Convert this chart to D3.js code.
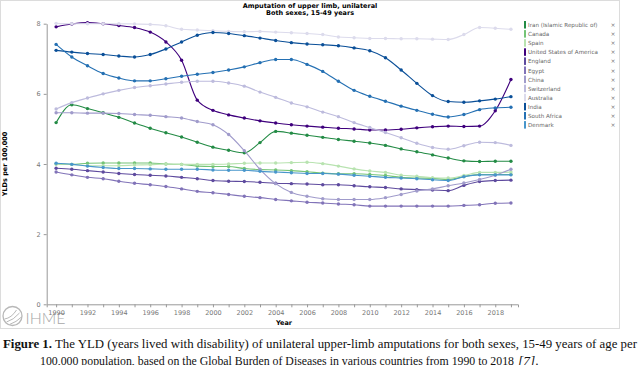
<!DOCTYPE html>
<html>

<head>
    <meta charset="utf-8">
    <style>
        body { margin: 0; background: #fff; }
        .tick text {
            fill: #777;
            font-size: 6.5px;
            font-family: "DejaVu Sans", sans-serif;
        }
        .tick line, .domain { stroke: #999; }
    </style>
    <script src="https://cdnjs.cloudflare.com/ajax/libs/d3/7.8.5/d3.min.js"></script>
    <title>Amputation of upper limb, unilateral</title>
</head>

<body>
    <div id="chart"></div>

    <script>

        // data (YLDs per 100,000)
        var years = d3.range(1990, 2020);
        var xTickLabels = [1990, 1992, 1994, 1996, 1998, 2000, 2002, 2004, 2006, 2008, 2010, 2012, 2014, 2016, 2018];
        var yTicks = [0, 2, 4, 6, 8];

        var countries = ["Iran (Islamic Republic of)", "Canada", "Spain", "United States of America", "England",
            "Egypt", "China", "Switzerland", "Australia", "India", "South Africa", "Denmark"];
        var colors = ["#238b45", "#74c476", "#b8e3b0", "#3f007d", "#5e4a9e", "#8173b8", "#a09bcb", "#bdbbdd",
            "#dcdbec", "#0a4f98", "#2470b3", "#4896cb"];

        var iran = [5.18, 5.69, 5.58, 5.46, 5.33, 5.17, 5.02, 4.89, 4.77, 4.62, 4.48, 4.39, 4.32, 4.61, 4.93, 4.88, 4.82, 4.76, 4.70, 4.65, 4.60, 4.53, 4.43, 4.35, 4.26, 4.17, 4.09, 4.07, 4.08, 4.08];
        var canada = [4.00, 3.99, 4.02, 4.03, 4.03, 4.03, 4.03, 4.00, 3.99, 3.94, 3.93, 3.93, 3.87, 3.84, 3.83, 3.81, 3.78, 3.74, 3.72, 3.72, 3.70, 3.67, 3.62, 3.60, 3.59, 3.56, 3.64, 3.70, 3.70, 3.70];
        var spain = [4.00, 3.99, 3.95, 3.95, 3.95, 3.97, 3.98, 4.00, 3.99, 3.99, 3.99, 4.00, 4.02, 4.03, 4.03, 4.04, 4.05, 4.01, 3.94, 3.86, 3.80, 3.76, 3.68, 3.65, 3.61, 3.60, 3.67, 3.76, 3.76, 3.77];
        var usa = [7.91, 7.99, 8.03, 8.00, 7.95, 7.89, 7.76, 7.48, 6.96, 5.82, 5.53, 5.40, 5.31, 5.23, 5.17, 5.12, 5.08, 5.05, 5.02, 5.00, 4.97, 4.97, 4.99, 5.03, 5.06, 5.08, 5.07, 5.08, 5.52, 6.41];
        var england = [3.88, 3.85, 3.81, 3.77, 3.73, 3.70, 3.68, 3.66, 3.62, 3.58, 3.53, 3.51, 3.50, 3.48, 3.45, 3.44, 3.43, 3.41, 3.41, 3.38, 3.35, 3.33, 3.29, 3.27, 3.26, 3.24, 3.39, 3.50, 3.53, 3.54];
        var egypt = [3.77, 3.69, 3.62, 3.58, 3.51, 3.45, 3.41, 3.36, 3.29, 3.22, 3.18, 3.13, 3.08, 3.04, 2.99, 2.95, 2.91, 2.89, 2.86, 2.84, 2.80, 2.80, 2.80, 2.80, 2.80, 2.80, 2.82, 2.84, 2.88, 2.89];
        var china = [5.46, 5.46, 5.45, 5.45, 5.44, 5.41, 5.39, 5.35, 5.31, 5.21, 5.12, 4.84, 4.38, 3.85, 3.44, 3.19, 3.08, 3.01, 2.99, 2.99, 2.99, 3.04, 3.13, 3.23, 3.29, 3.38, 3.46, 3.56, 3.68, 3.85];
        var switzerland = [5.57, 5.75, 5.88, 6.00, 6.10, 6.18, 6.23, 6.28, 6.33, 6.36, 6.36, 6.31, 6.22, 6.05, 5.90, 5.74, 5.63, 5.48, 5.35, 5.18, 5.04, 4.90, 4.75, 4.59, 4.47, 4.42, 4.52, 4.62, 4.61, 4.53];
        var australia = [8.01, 8.00, 8.00, 8.00, 8.00, 7.99, 7.98, 7.94, 7.84, 7.82, 7.80, 7.78, 7.77, 7.78, 7.76, 7.74, 7.72, 7.69, 7.62, 7.60, 7.58, 7.58, 7.57, 7.57, 7.56, 7.55, 7.69, 7.89, 7.87, 7.84];
        var india = [7.24, 7.19, 7.15, 7.12, 7.08, 7.05, 7.12, 7.28, 7.48, 7.67, 7.75, 7.72, 7.66, 7.59, 7.52, 7.46, 7.42, 7.40, 7.37, 7.31, 7.23, 7.03, 6.68, 6.30, 5.95, 5.78, 5.76, 5.80, 5.85, 5.92];
        var southAfrica = [7.41, 7.05, 6.80, 6.58, 6.45, 6.37, 6.37, 6.43, 6.50, 6.56, 6.61, 6.68, 6.77, 6.89, 6.98, 6.98, 6.84, 6.64, 6.36, 6.10, 5.93, 5.79, 5.65, 5.53, 5.42, 5.34, 5.41, 5.55, 5.60, 5.62];
        var denmark = [4.02, 3.99, 3.94, 3.90, 3.87, 3.87, 3.86, 3.85, 3.85, 3.85, 3.83, 3.82, 3.82, 3.79, 3.77, 3.75, 3.73, 3.73, 3.71, 3.68, 3.65, 3.62, 3.60, 3.58, 3.55, 3.53, 3.64, 3.69, 3.69, 3.69];

        var values = [iran, canada, spain, usa, england, egypt, china, switzerland, australia, india, southAfrica, denmark];

        var series = countries.map(function (name, i) {
            return { name: name, color: colors[i], points: years.map(function (yr, j) { return { year: yr, v: values[i][j] }; }) };
        });

        var svg = d3.select("#chart")
            .append("svg")
            .attr("width", 640)
            .attr("height", 365)
            .style("display", "block");

        // chart frame
        svg.append("rect")
            .attr("x", 0.5).attr("y", 0.5)
            .attr("width", 619).attr("height", 328)
            .attr("fill", "#fff")
            .attr("stroke", "#dcdcdc");

        // scales
        var x = d3.scaleLinear()
            .domain([1989.4, 2019.45])
            .range([46.7, 518]);
        var y = d3.scaleLinear()
            .domain([0, 8])
            .range([304.3, 23.7]);

        // IHME logo (drawn under the axis, like the original)
        var logo = svg.append("g").attr("transform", "translate(12.5,316)");
        logo.append("circle").attr("r", 9.5).attr("fill", "none").attr("stroke", "#b8b8b8").attr("stroke-width", 1.3);
        logo.append("path").attr("d", "M-8,3 Q-1,2 4,-6 M-6,6 Q1,4 7,-3 M-3,8.5 Q4,6 9,1")
            .attr("fill", "none").attr("stroke", "#b8b8b8").attr("stroke-width", 1);
        svg.append("text").attr("x", 25.5).attr("y", 323.5)
            .attr("textLength", 40).attr("lengthAdjust", "spacingAndGlyphs")
            .style("font-family", "Lato, sans-serif").style("font-size", "16px").style("font-weight", "300").style("fill", "#a8a8a8")
            .text("IHME");

        // axes
        svg.append("g")
            .attr("transform", "translate(0,304.3)")
            .call(d3.axisBottom(x)
                .tickValues(years)
                .tickFormat(function (d) { return xTickLabels.indexOf(d) >= 0 ? d : ""; })
                .tickSize(3)
                .tickSizeOuter(3)
                .tickPadding(3));

        svg.append("g")
            .attr("transform", "translate(46.7,0)")
            .call(d3.axisLeft(y)
                .tickValues(yTicks)
                .tickSize(3)
                .tickSizeOuter(0)
                .tickPadding(3));

        // titles
        svg.append("text").attr("x", 310).attr("y", 8).attr("text-anchor", "middle")
            .style("font-family", "DejaVu Sans, sans-serif").style("font-size", "6.5px").style("font-weight", "bold")
            .text("Amputation of upper limb, unilateral");
        svg.append("text").attr("x", 310).attr("y", 15).attr("text-anchor", "middle")
            .style("font-family", "DejaVu Sans, sans-serif").style("font-size", "6.5px").style("font-weight", "bold")
            .text("Both sexes, 15-49 years");
        svg.append("text").attr("x", 284).attr("y", 325).attr("text-anchor", "middle")
            .style("font-family", "DejaVu Sans, sans-serif").style("font-size", "6.5px").style("font-weight", "bold")
            .text("Year");
        svg.append("text").attr("transform", "translate(6.5,164) rotate(-90)").attr("text-anchor", "middle")
            .style("font-family", "DejaVu Sans, sans-serif").style("font-size", "6.5px").style("font-weight", "bold")
            .text("YLDs per 100,000");

        // lines + markers
        var line = d3.line()
            .x(function (d) { return x(d.year); })
            .y(function (d) { return y(d.v); })
            .curve(d3.curveMonotoneX);

        var groups = svg.selectAll(".series")
            .data(series)
            .enter()
            .append("g")
            .attr("class", "series");

        groups.append("path")
            .attr("d", function (d) { return line(d.points); })
            .attr("fill", "none")
            .attr("stroke", function (d) { return d.color; })
            .attr("stroke-width", 1.1);

        groups.selectAll("circle")
            .data(function (d) { return d.points.map(function (p) { return { year: p.year, v: p.v, color: d.color }; }); })
            .enter()
            .append("circle")
            .attr("cx", function (d) { return x(d.year); })
            .attr("cy", function (d) { return y(d.v); })
            .attr("r", 1.7)
            .attr("fill", function (d) { return d.color; });

        // legend
        var legend = svg.selectAll(".legend")
            .data(series)
            .enter()
            .append("g")
            .attr("class", "legend")
            .attr("transform", function (d, i) { return "translate(524," + (21 + i * 9.1) + ")"; });

        legend.append("rect").attr("width", 2).attr("height", 7.5)
            .attr("fill", function (d) { return d.color; });
        legend.append("text").attr("x", 4).attr("y", 6)
            .style("font-family", "DejaVu Sans, sans-serif").style("font-size", "5.6px").style("fill", "#666")
            .text(function (d) { return d.name; });
        legend.append("text").attr("x", 89).attr("y", 6).attr("text-anchor", "middle")
            .style("font-family", "DejaVu Sans, sans-serif").style("font-size", "6px").style("fill", "#777")
            .text("×");

        // caption
        var cap1 = svg.append("text").attr("x", 3).attr("y", 347.5)
            .attr("textLength", 634).attr("lengthAdjust", "spacingAndGlyphs")
            .style("font-family", "Liberation Serif, serif").style("font-size", "13.5px").style("fill", "#111");
        cap1.append("tspan").style("font-weight", "bold").text("Figure 1.");
        cap1.append("tspan").text(" The YLD (years lived with disability) of unilateral upper-limb amputations for both sexes, 15-49 years of age per");

        svg.append("text").attr("x", 40).attr("y", 365)
            .attr("textLength", 474).attr("lengthAdjust", "spacingAndGlyphs")
            .style("font-family", "Liberation Serif, serif").style("font-size", "13.5px").style("fill", "#111")
            .text("100,000 population, based on the Global Burden of Diseases in various countries from 1990 to 2018");
        var ref = svg.append("text").attr("x", 518).attr("y", 365)
            .style("font-family", "Liberation Serif, serif").style("font-size", "13.5px").style("fill", "#111");
        ref.append("tspan").style("font-style", "italic").text("[7]");
        ref.append("tspan").text(".");

    </script>

</body>

</html>
